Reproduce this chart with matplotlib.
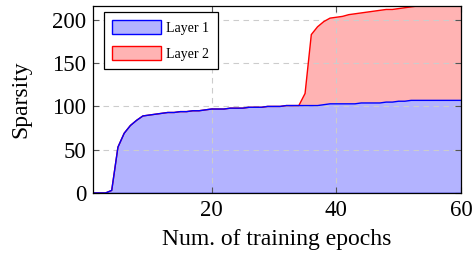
import matplotlib
matplotlib.use("Agg")
import matplotlib.pyplot as plt
import numpy as np
from matplotlib.patches import Patch

epochs = list(range(1, 61))
layer1 = [0, 0, 0, 3, 53, 69, 78, 84, 89, 90,
          91, 92, 93, 93, 94, 94, 95, 95, 96, 97,
          97, 97, 98, 98, 98, 99, 99, 99, 100, 100,
          100, 101, 101, 101, 101, 101, 101, 102, 103, 103,
          103, 103, 103, 104, 104, 104, 104, 105, 105, 106,
          106, 107, 107, 107, 107, 107, 107, 107, 107, 107]
layer2 = [0] * 34 + [14, 82, 91, 96, 99, 100, 101, 103, 104, 104,
                     105, 106, 107, 107, 107, 107, 108, 108, 109, 110,
                     110, 111, 111, 112, 112, 113]
labels = ["Layer 1", "Layer 2"]
xticks = [20, 40, 60]
yticks = [0, 50, 100, 150, 200]

plt.rcParams['font.family'] = ['Liberation Serif', 'DejaVu Serif']

fig = plt.figure(figsize=(4.74, 2.61), dpi=100)
ax = fig.add_axes([93/474, 1-193/261, (461-93)/474, (193-6)/261])

x = np.array(epochs)
l1 = np.array(layer1)
l2 = np.array(layer2)
top = l1 + l2

ax.fill_between(x, 0, l1, facecolor='#b3b3ff', edgecolor='none', zorder=2)
ax.fill_between(x, l1, top, facecolor='#ffb3b3', edgecolor='none', zorder=2)
ax.plot(x, top, color='red', lw=1.0, zorder=3)
ax.plot(x, l1, color='blue', lw=1.0, zorder=3.1)
ax.plot(x, np.zeros_like(x), color='blue', lw=1.0, zorder=3)

ax.set_xlim(1, 60)
ax.set_ylim(0, 216)
ax.set_xticks(xticks)
ax.set_yticks(yticks)
ax.grid(True, color='#cccccc', linestyle=(0, (5, 4)), lw=0.8, zorder=2.5)
ax.set_axisbelow(False)
ax.tick_params(direction='in', length=4, width=0.8, color='#555555',
               top=True, right=True, labelsize=16.5, pad=5)
for s in ax.spines.values():
    s.set_linewidth(0.9)
    s.set_zorder(4)

ax.set_xlabel("Num. of training epochs", fontsize=17, labelpad=6)
ax.set_ylabel("Sparsity", fontsize=17, labelpad=15)

handles = [Patch(facecolor='#b3b3ff', edgecolor='blue', lw=1.0),
           Patch(facecolor='#ffb3b3', edgecolor='red', lw=1.0)]
leg = ax.legend(handles, labels, loc='upper left', fontsize=10, frameon=True,
                fancybox=False, edgecolor='black', framealpha=1,
                handlelength=3.5, handleheight=1.15, handletextpad=0.4,
                borderpad=0.6, labelspacing=0.8, borderaxespad=0,
                bbox_to_anchor=(11/368, 1-6/187))
leg.get_frame().set_linewidth(0.9)
leg.set_zorder(5)

fig.savefig("out.png", dpi=100)
